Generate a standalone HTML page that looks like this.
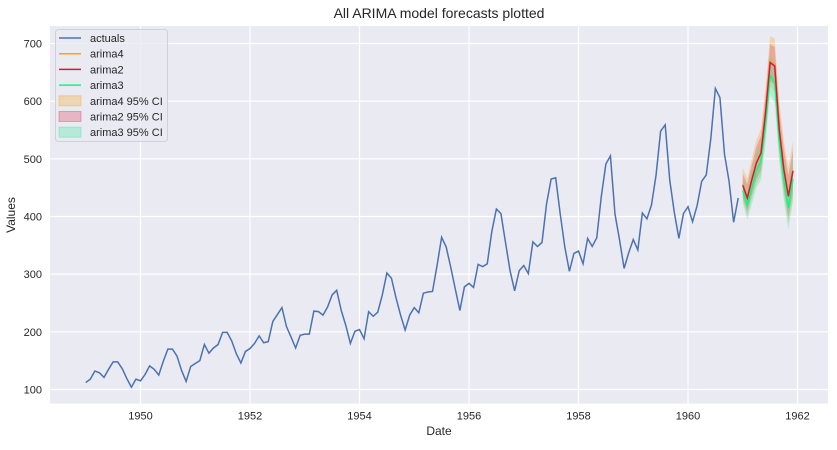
<!DOCTYPE html>
<html><head><meta charset="utf-8"><style>
body{margin:0;background:#fff;font-family:"Liberation Sans",sans-serif}
svg text{font-family:"Liberation Sans",sans-serif;fill:#262626}
</style></head><body>
<svg id="c" width="837" height="445"></svg>
<script>
const actuals=[112,118,132,129,121,135,148,148,136,119,104,118,115,126,141,135,125,149,170,170,158,133,114,140,145,150,178,163,172,178,199,199,184,162,146,166,171,180,193,181,183,218,230,242,209,191,172,194,196,196,236,235,229,243,264,272,237,211,180,201,204,188,235,227,234,264,302,293,259,229,203,229,242,233,267,269,270,315,364,347,312,274,237,278,284,277,317,313,318,374,413,405,355,306,271,306,315,301,356,348,355,422,465,467,404,347,305,336,340,318,362,348,363,435,491,505,404,359,310,337,360,342,406,396,420,472,548,559,463,407,362,405,417,391,419,461,472,535,622,606,508,461,390,432];
const arima4=[456,434,466,495,512,582,669,663,553,484,437,481];
const arima2=[454,432,464,493,510,580,667,661,551,482,435,479];
const arima3=[445,420,450,480,495,560,645,632,530,465,415,465];
const arima4Half=[28,32,35,38,40,42,44,46,47,48,49,50];
const arima2Half=[20,24,26,28,30,31,32,33,34,35,36,37];
const arima3Half=[22,26,28,30,32,33,34,35,36,37,38,39];
const yTicks=[100,200,300,400,500,600,700];
const xTicks=[1950,1952,1954,1956,1958,1960,1962];
const L=50,R=828,T=26,B=403.5;
const sx=t=>140.5+(t-1950)*54.75;
const sy=v=>389.5-(v-100)*0.5767;
const svg=document.getElementById('c');const NS='http://www.w3.org/2000/svg';
function mk(tag,a,p){const e=document.createElementNS(NS,tag);for(const k in a)e.setAttribute(k,a[k]);(p||svg).appendChild(e);return e;}
let e=mk('rect',{x:L,y:T,width:R-L,height:B-T,fill:'#eaeaf2'});


yTicks.forEach(v=>{let g=mk('line',{x1:L,x2:R,y1:sy(v),y2:sy(v),stroke:'#fff','stroke-width':1.2});


let t=mk('text',{x:L-8,y:sy(v)+4,'text-anchor':'end','font-size':11});t.textContent=v;

});
xTicks.forEach(v=>{let g=mk('line',{x1:sx(v),x2:sx(v),y1:T,y2:B,stroke:'#fff','stroke-width':1.2});


let t=mk('text',{x:sx(v),y:B+16,'text-anchor':'middle','font-size':11});t.textContent=v;

});
const ft=i=>1961+i/12;
function band(vals,half,col,name){const up=vals.map((v,i)=>sx(ft(i))+','+sy(v+half[i]));const dn=vals.map((v,i)=>sx(ft(i))+','+sy(v-half[i])).reverse();
let p=mk('polygon',{points:up.concat(dn).join(' '),fill:col,'fill-opacity':0.3});

}
function line(vals,t0,col,name,w){let p=mk('polyline',{points:vals.map((v,i)=>sx(t0(i))+','+sy(v)).join(' '),fill:'none',stroke:col,'stroke-width':w||1.5});

}
band(arima4,arima4Half,'#f5a623','arima4-ci');
band(arima2,arima2Half,'#e0405a','arima2-ci');
band(arima3,arima3Half,'#3ee89a','arima3-ci');
line(actuals,i=>1949+i/12,'#4c72b0','actuals-line');
line(arima4,ft,'#ffa500','arima4-line');
line(arima3,ft,'#00ff7f','arima3-line');
line(arima2,ft,'#dc143c','arima2-line');
let tt=mk('text',{x:439,y:18,'text-anchor':'middle','font-size':14});tt.textContent='All ARIMA model forecasts plotted';


tt=mk('text',{x:439,y:435,'text-anchor':'middle','font-size':12});tt.textContent='Date';


tt=mk('text',{x:15,y:215,'text-anchor':'middle','font-size':12,transform:'rotate(-90 15 215)'});tt.textContent='Values';


const lg=mk('g',{});


mk('rect',{x:55.5,y:29.5,width:112,height:112,rx:3,fill:'#eaeaf2','fill-opacity':0.8,stroke:'#d0d0d8'},lg);
const items=[['actuals','#4c72b0',0],['arima4','#ffa500',0],['arima2','#dc143c',0],['arima3','#00ff7f',0],['arima4 95% CI','#f5a623',1],['arima2 95% CI','#e0405a',1],['arima3 95% CI','#3ee89a',1]];
items.forEach((it,i)=>{const y=38+i*15.7;const g=mk('g',{},lg);


if(it[2])mk('rect',{x:59,y:y-5,width:22,height:10,fill:it[1],'fill-opacity':0.3,stroke:it[1],'stroke-opacity':0.4},g);
else mk('line',{x1:59,x2:81,y1:y,y2:y,stroke:it[1],'stroke-width':1.5},g);
const t=mk('text',{x:90,y:y+4,'font-size':11},g);t.textContent=it[0];});
</script>
</body></html>
